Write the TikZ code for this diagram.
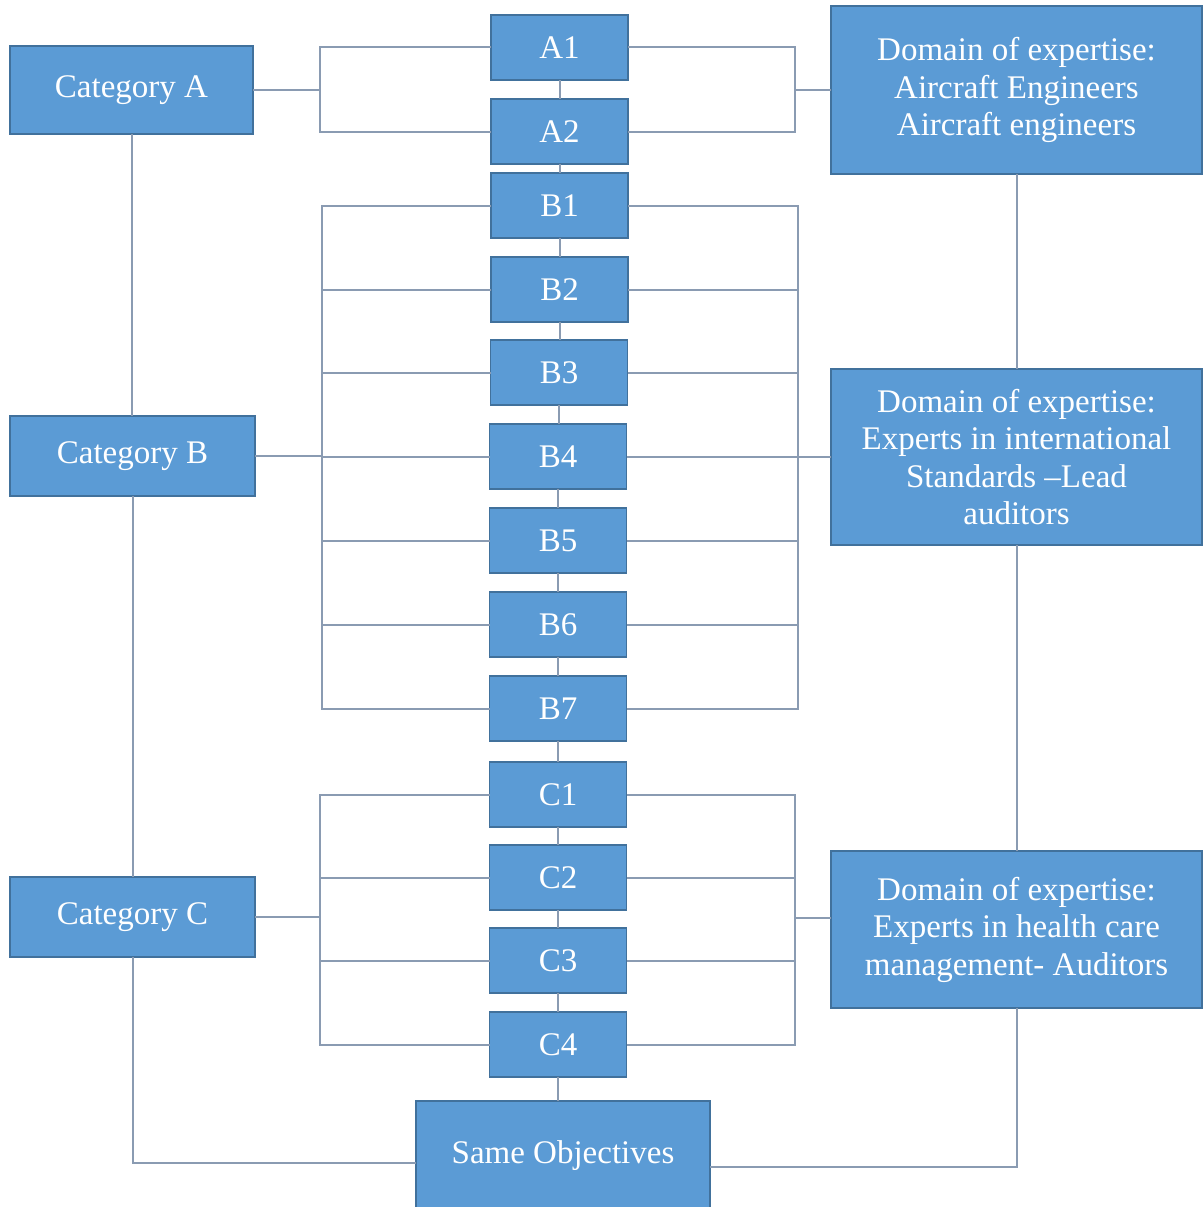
\documentclass[tikz,border=0pt]{standalone}
\usepackage{fontspec}
\setmainfont{Liberation Serif}
\definecolor{boxfill}{HTML}{5B9BD5}
\definecolor{boxline}{HTML}{41719C}
\definecolor{wire}{HTML}{8A9BB2}
\begin{document}
\begin{tikzpicture}[x=1pt,y=-1pt,
  box/.style={draw=boxline, line width=1.5pt, fill=boxfill, text=white,
    inner sep=0pt, outer sep=0pt, align=center,
    font=\fontsize{33}{37.5}\selectfont},
  catbox/.style={box, minimum width=245pt, minimum height=80pt},
  idbox/.style={box, minimum width=137pt, minimum height=65pt},
  dombox/.style={box, minimum width=371pt},
  conn/.style={draw=wire, line width=2pt}]
\useasboundingbox (0,0) rectangle (1203,1207);
\clip (0,0) rectangle (1203,1207);

% categories
\node[catbox, minimum width=243pt, minimum height=88pt] (CatA) at (131.5,90) {Category A};
\node[catbox] (CatB) at (132.5,456) {Category B};
\node[catbox] (CatC) at (132.5,917) {Category C};

% member column
\node[idbox] (A1) at (559.5,47.5) {A1};
\node[idbox] (A2) at (559.5,131.5) {A2};
\node[idbox] (B1) at (559.5,205.5) {B1};
\node[idbox] (B2) at (559.5,289.5) {B2};
\node[idbox] (B3) at (559,372.5) {B3};
\node[idbox] (B4) at (558,456.5) {B4};
\node[idbox] (B5) at (558,540.5) {B5};
\node[idbox] (B6) at (558,624.5) {B6};
\node[idbox] (B7) at (558,708.5) {B7};
\node[idbox] (C1) at (558,794.5) {C1};
\node[idbox] (C2) at (558,877.5) {C2};
\node[idbox] (C3) at (558,960.5) {C3};
\node[idbox] (C4) at (558,1044.5) {C4};
\node[box, minimum width=294pt, minimum height=109pt] (SO) at (563,1155.5) {Same Objectives};

% domains of expertise
\node[dombox, minimum height=168pt] (DomA) at (1016.5,90)
  {Domain of expertise:\\Aircraft Engineers\\Aircraft engineers};
\node[dombox, minimum height=176pt] (DomB) at (1016.5,457)
  {Domain of expertise:\\Experts in international\\Standards \textendash Lead\\auditors};
\node[dombox, minimum height=157pt] (DomC) at (1016.5,929.5)
  {Domain of expertise:\\Experts in health care\\management- Auditors};

% bracket junctions
\coordinate (jAl) at (320,90);
\coordinate (jAr) at (795,90);
\coordinate (jBl) at (322,456);
\coordinate (jBr) at (798,457);
\coordinate (jCl) at (320,917);
\coordinate (jCr) at (795,918);
\coordinate (soL) at (416,1163);
\coordinate (soR) at (710,1167);

% brackets
\draw[conn] (CatA.east) -- (jAl);
\draw[conn] (jAr) -- (DomA.west |- jAr);
\foreach \n in {A1,A2}{
  \draw[conn] (\n.west) -| (jAl);
  \draw[conn] (\n.east) -| (jAr);
}
\draw[conn] (CatB.east) -- (jBl);
\draw[conn] (jBr) -- (DomB.west |- jBr);
\foreach \n in {B1,B2,B3,B4,B5,B6,B7}{
  \draw[conn] (\n.west) -| (jBl);
  \draw[conn] (\n.east) -| (jBr);
}
\draw[conn] (CatC.east) -- (jCl);
\draw[conn] (jCr) -- (DomC.west |- jCr);
\foreach \n in {C1,C2,C3,C4}{
  \draw[conn] (\n.west) -| (jCl);
  \draw[conn] (\n.east) -| (jCr);
}

% member chain
\foreach \a/\b in {A1/A2,A2/B1,B1/B2,B2/B3,B3/B4,B4/B5,B5/B6,B6/B7,B7/C1,C1/C2,C2/C3,C3/C4,C4/SO}{
  \draw[conn] (\a.south) -- (\a.south |- \b.north);
}

% side spines
\draw[conn] (CatA.south) -- (CatA.south |- CatB.north);
\draw[conn] (CatB.south) -- (CatB.south |- CatC.north);
\draw[conn] (CatC.south) |- (soL);
\draw[conn] (DomA.south) -- (DomB.north);
\draw[conn] (DomB.south) -- (DomC.north);
\draw[conn] (DomC.south) |- (soR);
\end{tikzpicture}
\end{document}
